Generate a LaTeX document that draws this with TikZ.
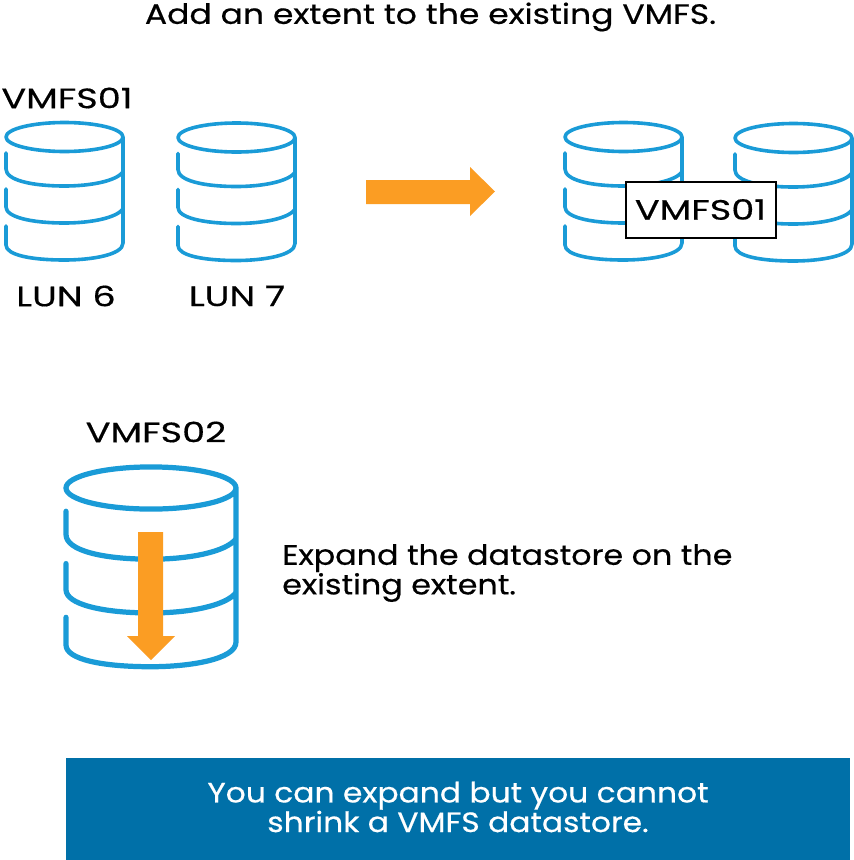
\documentclass[tikz,border=0pt]{standalone}
\usepackage{fontspec}
\setmainfont{Poppins}
\newfontfamily\lblfont[FakeStretch=1.31,FakeBold=0.5]{Poppins}
\newfontfamily\titlefont[FakeStretch=1.18,FakeBold=0.5]{Poppins}
\newfontfamily\expfont[FakeStretch=1.135,FakeBold=0.5]{Poppins}
\newfontfamily\banfont[FakeStretch=1.12,FakeBold=0.5]{Poppins}
\definecolor{cylblue}{HTML}{1A9BD7}
\definecolor{arroworange}{HTML}{FB9D23}
\definecolor{bannerblue}{HTML}{0070A8}
\tikzset{
  x=1pt,y=-1pt,
  dbdrum/.pic={
    \draw[cylblue,line width=3.6pt*\pgfkeysvalueof{/tikz/drumw}/117,line cap=round,line join=round,x=\pgfkeysvalueof{/tikz/drumw}/117*1pt,y=-\pgfkeysvalueof{/tikz/drumw}/117*1pt]
      (58.5,0) ellipse [x radius=58.5,y radius=14.5]
      (117,0) -- (117,106) .. controls (117,118) and (85,123) .. (58.5,123) .. controls (25,123) and (0,118) .. (0,108) -- (0,89)
      (0,16) -- (0,32) .. controls (0,43) and (25,49) .. (58.5,49) .. controls (85,49) and (110,44) .. (117,35)
      (0,52) -- (0,70) .. controls (0,80) and (25,86) .. (58.5,86) .. controls (85,86) and (110,81) .. (117,72);
  },
  /tikz/drumw/.initial=117,
  lbl/.style={font=\lblfont\fontsize{28}{28}\selectfont,text=black,inner sep=0pt,align=center},
  head/.style={text=black,inner sep=0pt,align=left},
  vbox/.style={draw=black,line width=2pt,fill=white,minimum width=150pt,minimum height=56pt,inner sep=0pt,font=\lblfont\fontsize{28}{28}\selectfont},
}
\begin{document}
\begin{tikzpicture}
\useasboundingbox (0,0) rectangle (854,860);
\node[head,font=\titlefont\fontsize{28}{28}\selectfont] (title) at (430.5,17) {Add an extent to the existing VMFS.};
\node[lbl] (vmfsa) at (67,98) {VMFS01};
\pic at (6,137) {dbdrum};
\pic at (178,137.5) {dbdrum};
\node[lbl] (luna) at (66,296) {LUN 6};
\node[lbl] (lunb) at (237,296) {LUN 7};
\fill[arroworange] (366,180) -- (470,180) -- (470,167) -- (495,191.5) -- (470,216) -- (470,204) -- (366,204) -- cycle;
\pic at (565,137) {dbdrum};
\pic at (735,138) {dbdrum};
\node[vbox] (vmfsb) at (700.5,209.5) {VMFS01};
\node[lbl] (vmfsc) at (156,432) {VMFS02};
\begin{scope}[drumw=170]
\pic at (66,488) {dbdrum};
\end{scope}
\fill[arroworange] (138,532) -- (163,532) -- (163,636) -- (175,636) -- (151,660) -- (127,636) -- (138,636) -- cycle;
\node[head,anchor=west,font=\expfont\fontsize{28}{27}\selectfont] (expand) at (282,573) {Expand the datastore on the\\existing extent.};
\fill[bannerblue] (66,758) rectangle (850,860);
\node[head,align=center,text=white,font=\banfont\fontsize{28}{28}\selectfont] (banner) at (458,807) {You can expand but you cannot\\shrink a VMFS datastore.};
\end{tikzpicture}
\end{document}
